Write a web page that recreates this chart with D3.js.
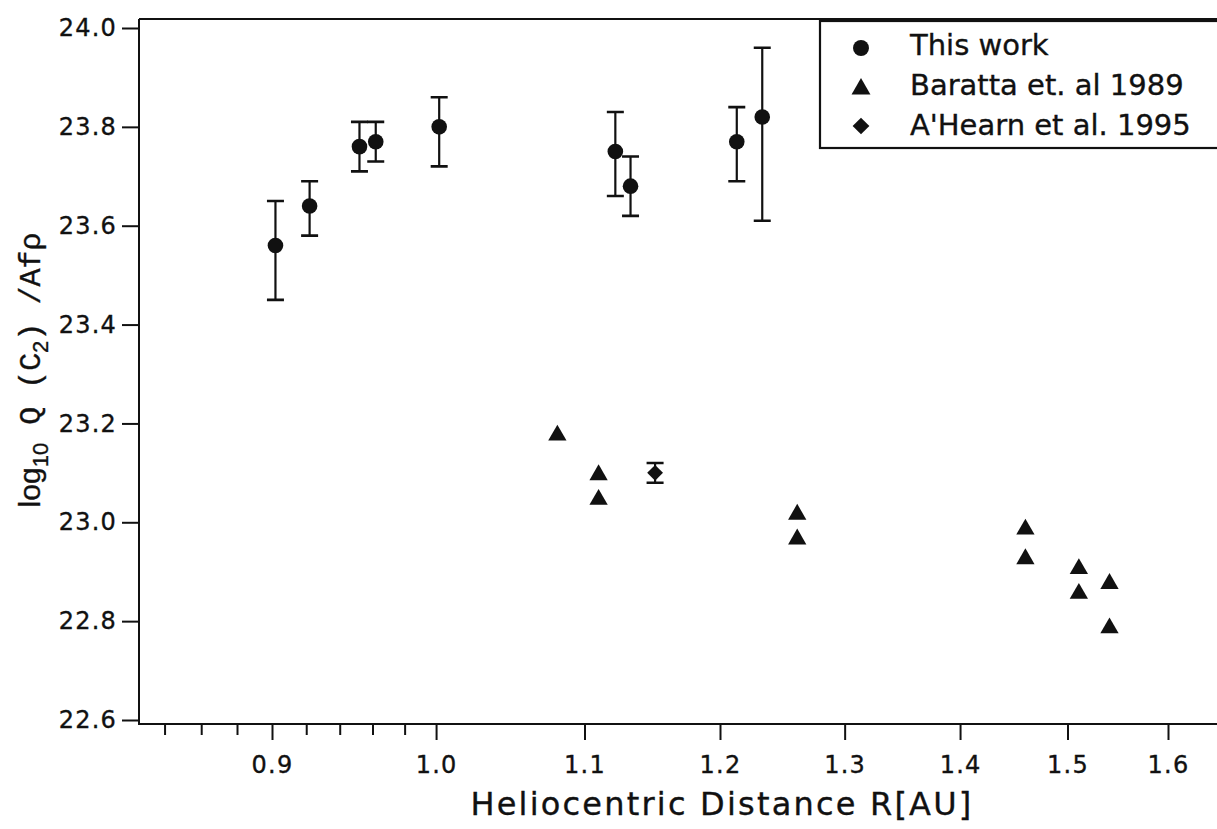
<!DOCTYPE html>
<html>
<head>
<meta charset="utf-8">
<script src="https://cdn.jsdelivr.net/npm/d3@7"></script>
<style>
  body { margin: 0; background: #fff; }
  svg text { font-family: "DejaVu Sans", sans-serif; fill: #111; stroke: #111; stroke-width: 0.35px; }
</style>
</head>
<body>
<svg id="chart" width="1217" height="829"></svg>
<script>
// C2 production rates
thisWorkR  = [0.902, 0.922, 0.952, 0.962, 1.002, 1.122, 1.133, 1.213, 1.233]
thisWorkQ  = [23.56, 23.64, 23.76, 23.77, 23.80, 23.75, 23.68, 23.77, 23.82]
thisWorkHi = [23.65, 23.69, 23.81, 23.81, 23.86, 23.83, 23.74, 23.84, 23.96]
thisWorkLo = [23.45, 23.58, 23.71, 23.73, 23.72, 23.66, 23.62, 23.69, 23.61]

barattaR = [1.081, 1.11, 1.11, 1.261, 1.261, 1.46, 1.46, 1.511, 1.511, 1.541, 1.541]
barattaQ = [23.18, 23.10, 23.05, 23.02, 22.97, 22.99, 22.93, 22.91, 22.86, 22.88, 22.79]

ahearnR  = [1.151]
ahearnQ  = [23.10]
ahearnHi = [23.12]
ahearnLo = [23.08]

xMajor = [0.9, 1.0, 1.1, 1.2, 1.3, 1.4, 1.5, 1.6]
xMinor = [0.84, 0.86, 0.88, 0.92, 0.94, 0.96, 0.98]
yTicks = [22.6, 22.8, 23.0, 23.2, 23.4, 23.6, 23.8, 24.0]
legendLabels = ["This work", "Baratta et. al 1989", "A'Hearn et al. 1995"]

const svg = d3.select("#chart")
const width = +svg.attr("width")
const margin = {left: 139, top: 19, bottom: 724}

// axis is logarithmic in R
x = d3.scaleLog().domain([0.9, 1.6]).range([272, 1168])
y = d3.scaleLinear().domain([22.6, 24.0]).range([720, 28])

// frame: top line, left and bottom axis lines
svg.append("path")
  .attr("fill", "none")
  .attr("stroke", "#111")
  .attr("stroke-width", 2)
  .attr("d", `M${margin.left},${margin.top} H${width} M${margin.left},${margin.top} V${margin.bottom} H${width}`)

// y axis
const yAxis = svg.append("g")
  .attr("transform", `translate(${margin.left},0)`)
  .call(d3.axisLeft(y).tickValues(yTicks).tickFormat(d3.format(".1f")).tickSize(17).tickPadding(5))
yAxis.select(".domain").remove()
yAxis.selectAll("line").attr("stroke", "#111").attr("stroke-width", 2)
yAxis.selectAll("text").attr("font-size", 24).style("letter-spacing", "1.2px")

// x axis, major and minor ticks
const xAxis = svg.append("g")
  .attr("transform", `translate(0,${margin.bottom})`)
  .call(d3.axisBottom(x).tickValues(xMajor).tickFormat(d3.format(".1f")).tickSize(16).tickPadding(16))
xAxis.select(".domain").remove()
xAxis.selectAll("line").attr("stroke", "#111").attr("stroke-width", 2)
xAxis.selectAll("text").attr("font-size", 24).style("letter-spacing", "1.2px")

const xMinorAxis = svg.append("g")
  .attr("transform", `translate(0,${margin.bottom})`)
  .call(d3.axisBottom(x).tickValues(xMinor).tickFormat("").tickSize(11))
xMinorAxis.select(".domain").remove()
xMinorAxis.selectAll("line").attr("stroke", "#111").attr("stroke-width", 2)

// axis titles
svg.append("text")
  .attr("x", 722).attr("y", 815)
  .attr("text-anchor", "middle")
  .attr("font-size", 32)
  .style("letter-spacing", "2.2px")
  .text("Heliocentric Distance  R[AU]")

const yTitle = svg.append("text")
  .attr("transform", "translate(40,370) rotate(-90)")
  .attr("text-anchor", "middle")
  .attr("font-size", 30)
  .style("font-family", "'Liberation Sans', sans-serif")
yTitle.append("tspan").text("log")
yTitle.append("tspan").attr("dy", 8).attr("font-size", 22).text("10")
yTitle.append("tspan").attr("dy", -8).style("font-family", "'Liberation Mono', monospace").text(" Q (C")
yTitle.append("tspan").attr("dy", 8).attr("font-size", 22).text("2")
yTitle.append("tspan").attr("dy", -8).style("font-family", "'Liberation Mono', monospace").text(") /Afρ")

// error bars
function drawErrorBars(rs, his, los) {
  const g = svg.append("g").attr("stroke", "#111")
  rs.forEach((r, i) => {
    g.append("path")
      .attr("stroke-width", 2.2)
      .attr("d", `M${x(r)},${y(his[i])} V${y(los[i])}`)
    g.append("path")
      .attr("stroke-width", 2.6)
      .attr("d", `M${x(r) - 8.5},${y(his[i])} h17 M${x(r) - 8.5},${y(los[i])} h17`)
  })
}
drawErrorBars(thisWorkR, thisWorkHi, thisWorkLo)

svg.append("g")
  .selectAll("circle")
  .data(thisWorkR)
  .enter().append("circle")
  .attr("cx", d => x(d))
  .attr("cy", (d, i) => y(thisWorkQ[i]))
  .attr("r", 7.8)
  .attr("fill", "#111")

const tri = d3.symbol().type(d3.symbolTriangle).size(145)
svg.append("g")
  .selectAll("path")
  .data(barattaR)
  .enter().append("path")
  .attr("d", tri)
  .attr("transform", (d, i) => `translate(${x(d)},${y(barattaQ[i]) + 2})`)
  .attr("fill", "#111")

drawErrorBars(ahearnR, ahearnHi, ahearnLo)
const dia = d3.symbol().type(d3.symbolSquare).size(125)
svg.append("g")
  .selectAll("path")
  .data(ahearnR)
  .enter().append("path")
  .attr("d", dia)
  .attr("transform", (d, i) => `translate(${x(d)},${y(ahearnQ[i])}) rotate(45)`)
  .attr("fill", "#111")

// legend
const lg = svg.append("g").attr("transform", "translate(820,21)")
lg.append("rect")
  .attr("width", 420).attr("height", 127)
  .attr("fill", "#fff").attr("stroke", "#111").attr("stroke-width", 2.2)
const legendSymbols = [
  d3.symbol().type(d3.symbolCircle).size(200),
  d3.symbol().type(d3.symbolTriangle).size(155),
  d3.symbol().type(d3.symbolSquare).size(140)
]
legendLabels.forEach((t, i) => {
  const cy = 27 + i * 39
  lg.append("path")
    .attr("d", legendSymbols[i])
    .attr("transform", `translate(41,${cy + (i == 1 ? 2 : 0)})` + (i == 2 ? " rotate(45)" : ""))
    .attr("fill", "#111")
  lg.append("text")
    .attr("x", 90).attr("y", cy + 7 + i)
    .attr("font-size", 29)
    .text(t)
})
</script>
</body>
</html>
